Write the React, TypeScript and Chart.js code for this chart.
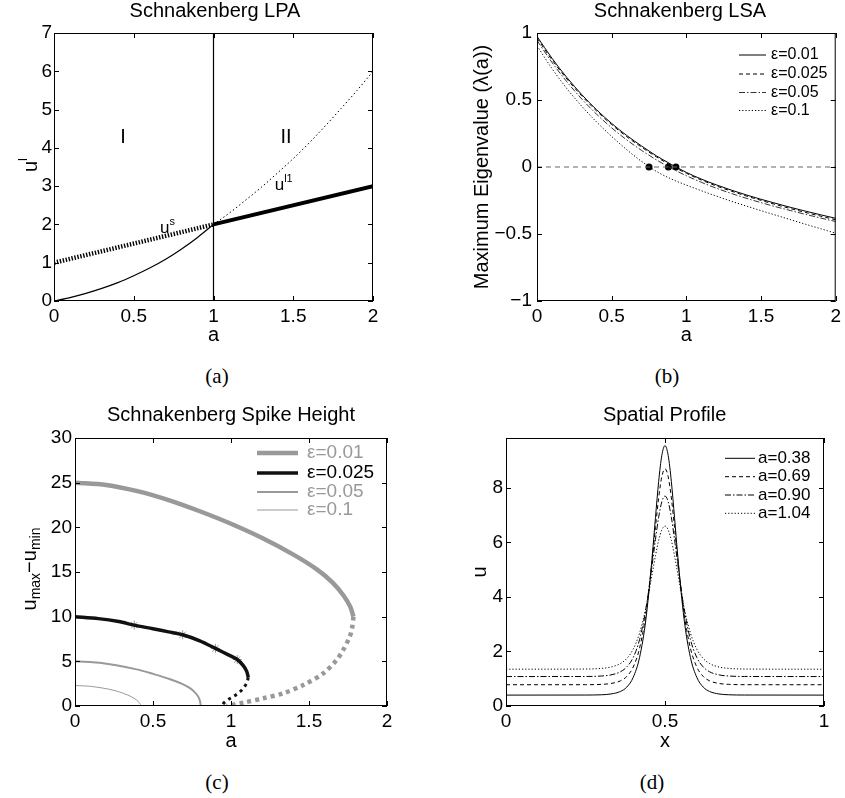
import React, { useEffect, useRef } from 'react';
import { Chart, registerables } from 'chart.js';

Chart.register(...registerables);

const SANS = '"Liberation Sans", Arial, Helvetica, sans-serif';
const SERIF = '"Liberation Serif", "Times New Roman", serif';
Chart.defaults.font.family = SANS;

// ---------------- Panel (a): Schnakenberg LPA ----------------
const A_TICKS = [0, 0.5, 1, 1.5, 2];
const LPA_Y_TICKS = [0, 1, 2, 3, 4, 5, 6, 7];
const LPA_A_LEFT = [0, 0.1, 0.2, 0.3, 0.4, 0.5, 0.6, 0.7, 0.8, 0.9, 1.0];
const LPA_U_LEFT = [0, 0.09, 0.2, 0.33, 0.48, 0.66, 0.86, 1.09, 1.36, 1.66, 2.0];
const LPA_US_A = [0, 1];
const LPA_US_U = [1, 2];
const LPA_A_RIGHT = [1.0, 1.1, 1.2, 1.3, 1.4, 1.5, 1.6, 1.7, 1.8, 1.9, 2.0];
const LPA_UL1 = [2.0, 2.3, 2.63, 2.97, 3.34, 3.72, 4.13, 4.57, 5.03, 5.5, 6.0];
const LPA_BRANCH_A = [1, 2];
const LPA_BRANCH_U = [2, 3];
const LPA_VLINE_A = [1, 1];
const LPA_VLINE_U = [0, 7];

// ---------------- Panel (b): Schnakenberg LSA ----------------
const LSA_Y_TICKS = [-1, -0.5, 0, 0.5, 1];
const LSA_A = [0, 0.1, 0.2, 0.3, 0.4, 0.5, 0.6, 0.7, 0.8, 0.9, 1.0, 1.1, 1.2, 1.3, 1.4, 1.5, 1.6, 1.7, 1.8, 1.9, 2.0];
const LSA_E001 = [0.975, 0.812, 0.668, 0.54, 0.426, 0.325, 0.236, 0.157, 0.083, 0.019, -0.04, -0.09, -0.133, -0.172, -0.208, -0.241, -0.272, -0.302, -0.33, -0.357, -0.383];
const LSA_E0025 = [0.962, 0.8, 0.657, 0.53, 0.417, 0.316, 0.227, 0.148, 0.075, 0.01, -0.047, -0.097, -0.141, -0.18, -0.216, -0.249, -0.281, -0.311, -0.34, -0.367, -0.394];
const LSA_E005 = [0.945, 0.781, 0.636, 0.507, 0.393, 0.292, 0.203, 0.124, 0.053, -0.01, -0.065, -0.114, -0.158, -0.197, -0.233, -0.266, -0.297, -0.326, -0.354, -0.381, -0.407];
const LSA_E01 = [0.905, 0.735, 0.585, 0.453, 0.335, 0.228, 0.13, 0.042, -0.033, -0.09, -0.135, -0.177, -0.217, -0.255, -0.291, -0.326, -0.36, -0.394, -0.428, -0.461, -0.494];
const LSA_ZERO_A = [0, 2];
const LSA_ZERO_L = [0, 0];
const LSA_CROSS_A = [0.75, 0.88, 0.93];
const LSA_CROSS_L = [0, 0, 0];

// ---------------- Panel (c): Spike height ----------------
const SH_Y_TICKS = [0, 5, 10, 15, 20, 25, 30];
const SH_E001_UP_A = [0, 0.2, 0.4, 0.6, 0.8, 1.0, 1.2, 1.4, 1.55, 1.65, 1.72, 1.765, 1.785];
const SH_E001_UP_U = [25, 24.75, 24.05, 23.05, 21.8, 20.4, 18.8, 16.95, 15.3, 13.85, 12.4, 11.1, 10.0];
const SH_E001_LO_A = [1.785, 1.777, 1.762, 1.72, 1.677, 1.592, 1.464, 1.335, 1.207, 1.079, 0.972];
const SH_E001_LO_U = [10.0, 8.8, 7.8, 6.3, 5.15, 3.66, 2.35, 1.42, 0.86, 0.37, 0.0];
const SH_E0025_UP_A = [0, 0.15, 0.28, 0.38, 0.5, 0.6, 0.69, 0.8, 0.9, 0.98, 1.04, 1.08, 1.1, 1.111];
const SH_E0025_UP_U = [10, 9.78, 9.45, 9.05, 8.65, 8.3, 7.98, 7.3, 6.45, 5.75, 5.2, 4.5, 3.9, 3.2];
const SH_E0025_LO_A = [1.111, 1.1, 1.08, 1.058, 1.02, 0.985, 0.955, 0.94];
const SH_E0025_LO_U = [3.2, 2.55, 2.0, 1.6, 1.1, 0.75, 0.35, 0.0];
const SH_E005_A = [0, 0.18, 0.395, 0.5, 0.61, 0.69, 0.737, 0.77, 0.79, 0.802, 0.806];
const SH_E005_U = [5, 4.78, 4.1, 3.6, 3.0, 2.45, 2.0, 1.5, 1.05, 0.5, 0];
const SH_E01_A = [0, 0.1, 0.18, 0.25, 0.31, 0.36, 0.395, 0.415, 0.425];
const SH_E01_U = [2.3, 2.2, 2.0, 1.75, 1.42, 1.05, 0.67, 0.3, 0];
const SH_STAR_A = [0.38, 0.69, 0.9, 1.04];
const SH_STAR_U = [9.05, 7.98, 6.45, 5.2];

// ---------------- Panel (d): Spatial profile ----------------
const SP_X_TICKS = [0, 0.5, 1];
const SP_Y_TICKS = [0, 2, 4, 6, 8];
const SP_X = [0, 0.25, 0.3, 0.33, 0.36, 0.38, 0.4, 0.42, 0.44, 0.46, 0.47, 0.48, 0.49, 0.5, 0.51, 0.52, 0.53, 0.54, 0.56, 0.58, 0.6, 0.62, 0.64, 0.67, 0.7, 0.75, 1];
const SP_A038 = [0.4, 0.402, 0.412, 0.441, 0.534, 0.696, 1.05, 1.78, 3.19, 5.52, 6.91, 8.23, 9.19, 9.55, 9.19, 8.23, 6.91, 5.52, 3.19, 1.78, 1.05, 0.696, 0.534, 0.441, 0.412, 0.402, 0.4];
const SP_A069 = [0.78, 0.782, 0.794, 0.826, 0.924, 1.087, 1.43, 2.12, 3.39, 5.39, 6.55, 7.63, 8.41, 8.7, 8.41, 7.63, 6.55, 5.39, 3.39, 2.12, 1.43, 1.087, 0.924, 0.826, 0.794, 0.782, 0.78];
const SP_A090 = [1.08, 1.083, 1.1, 1.141, 1.256, 1.435, 1.78, 2.435, 3.57, 5.22, 6.11, 6.92, 7.49, 7.7, 7.49, 6.92, 6.11, 5.22, 3.57, 2.435, 1.78, 1.435, 1.256, 1.141, 1.1, 1.083, 1.08];
const SP_A104 = [1.35, 1.356, 1.38, 1.429, 1.559, 1.746, 2.086, 2.676, 3.604, 4.866, 5.51, 6.075, 6.46, 6.6, 6.46, 6.075, 5.51, 4.866, 3.604, 2.676, 2.086, 1.746, 1.559, 1.429, 1.38, 1.356, 1.35];

// ---------------- helpers ----------------
const pts = (xs: number[], ys: number[]) => xs.map((x, i) => ({ x, y: ys[i] }));
const fmt = (v: number) => (v < 0 ? '\u2212' + String(Math.abs(v)) : String(v));

type Part = { t: string; size: number; dy?: number };
type TextItem = { x: number; y: number; parts: Part[]; data?: boolean; rotate?: boolean; color?: string };

const framePlugin = {
  id: 'frame',
  afterDraw(chart: any) {
    const { ctx, chartArea: a, scales } = chart;
    ctx.save();
    ctx.strokeStyle = '#000';
    ctx.lineWidth = 1;
    ctx.setLineDash([]);
    ctx.strokeRect(a.left + 0.5, a.top + 0.5, a.right - a.left - 1, a.bottom - a.top - 1);
    const L = 5;
    ctx.beginPath();
    scales.x.ticks.forEach((t: any) => {
      const px = Math.round(scales.x.getPixelForValue(t.value)) + 0.5;
      ctx.moveTo(px, a.bottom);
      ctx.lineTo(px, a.bottom - L);
      ctx.moveTo(px, a.top);
      ctx.lineTo(px, a.top + L);
    });
    scales.y.ticks.forEach((t: any) => {
      const py = Math.round(scales.y.getPixelForValue(t.value)) + 0.5;
      ctx.moveTo(a.left, py);
      ctx.lineTo(a.left + L, py);
      ctx.moveTo(a.right, py);
      ctx.lineTo(a.right - L, py);
    });
    ctx.stroke();
    ctx.restore();
  },
};

function makeTexts(id: string, items: TextItem[]) {
  return {
    id,
    afterDraw(chart: any) {
      const ctx = chart.ctx;
      items.forEach((it) => {
        let x = it.x;
        let y = it.y;
        if (it.data) {
          x = chart.scales.x.getPixelForValue(it.x);
          y = chart.scales.y.getPixelForValue(it.y);
        }
        ctx.save();
        ctx.translate(x, y);
        if (it.rotate) ctx.rotate(-Math.PI / 2);
        ctx.fillStyle = it.color || '#000';
        ctx.textBaseline = 'middle';
        ctx.textAlign = 'left';
        const widths = it.parts.map((p) => {
          ctx.font = `${p.size}px ${SANS}`;
          return ctx.measureText(p.t).width;
        });
        const total = widths.reduce((s, w) => s + w, 0);
        let cx = -total / 2;
        it.parts.forEach((p, i) => {
          ctx.font = `${p.size}px ${SANS}`;
          ctx.fillText(p.t, cx, p.dy || 0);
          cx += widths[i];
        });
        ctx.restore();
      });
    },
  };
}

function makeLegend(id: string, cfg: { x1: number; x2: number; tx: number; ys: number[]; size: number; items: { ds: number; color?: string }[] }) {
  return {
    id,
    afterDraw(chart: any) {
      const ctx = chart.ctx;
      cfg.items.forEach((item, i) => {
        const ds: any = chart.data.datasets[item.ds];
        const y = cfg.ys[i];
        ctx.save();
        ctx.strokeStyle = ds.borderColor;
        ctx.lineWidth = ds.borderWidth;
        ctx.setLineDash(ds.borderDash || []);
        ctx.beginPath();
        ctx.moveTo(cfg.x1, y);
        ctx.lineTo(cfg.x2, y);
        ctx.stroke();
        ctx.setLineDash([]);
        ctx.fillStyle = item.color || '#000';
        ctx.font = `${cfg.size}px ${SANS}`;
        ctx.textAlign = 'left';
        ctx.textBaseline = 'middle';
        ctx.fillText(ds.label, cfg.tx, y);
        ctx.restore();
      });
    },
  };
}

type AxOpts = {
  W: number; H: number; area: [number, number, number, number];
  xMin: number; xMax: number; yMin: number; yMax: number;
  xTicks: number[]; yTicks: number[];
  xTitle?: string; yTitle?: string; yTitlePad?: number;
  xTickPad: number; yTickPad: number;
};

function axesOptions(o: AxOpts): any {
  const [l, t, r, b] = o.area;
  const tickFont = { family: SANS, size: 19 };
  const titleFont = { family: SANS, size: 20 };
  return {
    responsive: false,
    animation: false,
    events: [],
    layout: { padding: { left: 0, top: t, right: o.W - r, bottom: 0 } },
    plugins: { legend: { display: false }, tooltip: { enabled: false }, title: { display: false } },
    elements: { point: { radius: 0 } },
    scales: {
      x: {
        type: 'linear', position: 'bottom', min: o.xMin, max: o.xMax,
        afterBuildTicks: (s: any) => { s.ticks = o.xTicks.map((v) => ({ value: v })); },
        afterFit: (s: any) => { s.height = o.H - b; },
        grid: { display: false, drawTicks: false },
        border: { display: false },
        ticks: { font: tickFont, color: '#000', padding: o.xTickPad, maxRotation: 0, minRotation: 0, autoSkip: false, callback: (v: number) => fmt(v) },
        title: { display: !!o.xTitle, text: o.xTitle || '', font: titleFont, color: '#000', padding: { top: 0, bottom: 0 } },
      },
      y: {
        type: 'linear', position: 'left', min: o.yMin, max: o.yMax,
        afterBuildTicks: (s: any) => { s.ticks = o.yTicks.map((v) => ({ value: v })); },
        afterFit: (s: any) => { s.width = l; },
        grid: { display: false, drawTicks: false },
        border: { display: false },
        ticks: { font: tickFont, color: '#000', padding: o.yTickPad, autoSkip: false, callback: (v: number) => fmt(v) },
        title: { display: !!o.yTitle, text: o.yTitle || '', font: titleFont, color: '#000', padding: { top: o.yTitlePad || 0, bottom: 0 } },
      },
    },
  };
}

const line = (label: string, data: any[], extra: any = {}) => ({
  label, data, borderColor: '#000', borderWidth: 1, pointRadius: 0, fill: false, tension: 0, ...extra,
});

// ---------------- chart configs ----------------
function makeA(): any {
  return {
    type: 'line',
    data: {
      datasets: [
        line('u', pts(LPA_A_LEFT, LPA_U_LEFT), { borderWidth: 1.2, cubicInterpolationMode: 'monotone' }),
        line('us', pts(LPA_US_A, LPA_US_U), { borderWidth: 4.5, borderDash: [1.4, 1.6] }),
        line('ul1', pts(LPA_A_RIGHT, LPA_UL1), { borderWidth: 1, borderDash: [1.5, 2.5], cubicInterpolationMode: 'monotone' }),
        line('branch', pts(LPA_BRANCH_A, LPA_BRANCH_U), { borderWidth: 4 }),
        line('a=1', pts(LPA_VLINE_A, LPA_VLINE_U), { borderWidth: 1.2 }),
      ],
    },
    options: axesOptions({
      W: 420, H: 347, area: [54, 33, 373, 301], xMin: 0, xMax: 2, yMin: 0, yMax: 7,
      xTicks: A_TICKS, yTicks: LPA_Y_TICKS, xTitle: 'a', xTickPad: 4, yTickPad: 2,
    }),
    plugins: [
      framePlugin,
      makeTexts('textsA', [
        { x: 215, y: 11.5, parts: [{ t: 'Schnakenberg LPA', size: 20 }] },
        { x: 31, y: 165, rotate: true, parts: [{ t: 'u', size: 20 }, { t: 'l', size: 13, dy: -8 }] },
        { x: 0.433, y: 4.28, data: true, parts: [{ t: 'I', size: 20 }] },
        { x: 1.455, y: 4.28, data: true, parts: [{ t: 'II', size: 20 }] },
        { x: 0.712, y: 1.9, data: true, parts: [{ t: 'u', size: 17 }, { t: 's', size: 11, dy: -6 }] },
        { x: 1.44, y: 3.02, data: true, parts: [{ t: 'u', size: 17 }, { t: 'l1', size: 11, dy: -6 }] },
      ]),
    ],
  };
}

function makeB(): any {
  return {
    type: 'line',
    data: {
      datasets: [
        line('zero', pts(LSA_ZERO_A, LSA_ZERO_L), { borderColor: '#666', borderDash: [5, 4] }),
        line('\u03b5=0.01', pts(LSA_A, LSA_E001), { cubicInterpolationMode: 'monotone' }),
        line('\u03b5=0.025', pts(LSA_A, LSA_E0025), { borderDash: [4, 3], cubicInterpolationMode: 'monotone' }),
        line('\u03b5=0.05', pts(LSA_A, LSA_E005), { borderColor: '#333', borderDash: [6, 2, 1.5, 2], cubicInterpolationMode: 'monotone' }),
        line('\u03b5=0.1', pts(LSA_A, LSA_E01), { borderDash: [1.2, 2], cubicInterpolationMode: 'monotone' }),
        { label: 'crossings', data: pts(LSA_CROSS_A, LSA_CROSS_L), showLine: false, pointRadius: 3.5, pointBackgroundColor: '#000', pointBorderColor: '#000', pointBorderWidth: 0 },
      ],
    },
    options: axesOptions({
      W: 425, H: 347, area: [117, 33, 418, 301], xMin: 0, xMax: 2, yMin: -1, yMax: 1,
      xTicks: A_TICKS, yTicks: LSA_Y_TICKS, xTitle: 'a', yTitle: 'Maximum Eigenvalue (\u03bb(a))', yTitlePad: 50,
      xTickPad: 4, yTickPad: 5,
    }),
    plugins: [
      framePlugin,
      makeTexts('textsB', [{ x: 260, y: 11.5, parts: [{ t: 'Schnakenberg LSA', size: 20 }] }]),
      makeLegend('legendB', { x1: 319, x2: 346, tx: 351, ys: [55, 74, 92.5, 110.5], size: 16, items: [{ ds: 1 }, { ds: 2 }, { ds: 3 }, { ds: 4 }] }),
    ],
  };
}

function makeC(): any {
  const G = '#999';
  return {
    type: 'line',
    data: {
      datasets: [
        line('\u03b5=0.01', pts(SH_E001_UP_A, SH_E001_UP_U), { borderColor: G, borderWidth: 4.5, tension: 0.3 }),
        line('\u03b5=0.01 lower', pts(SH_E001_LO_A, SH_E001_LO_U), { borderColor: G, borderWidth: 4.5, borderDash: [4, 4], tension: 0.3 }),
        line('\u03b5=0.025', pts(SH_E0025_UP_A, SH_E0025_UP_U), { borderColor: '#111', borderWidth: 3.5, tension: 0.3 }),
        line('\u03b5=0.025 lower', pts(SH_E0025_LO_A, SH_E0025_LO_U), { borderColor: '#111', borderWidth: 3, borderDash: [3, 4], tension: 0.3 }),
        line('\u03b5=0.05', pts(SH_E005_A, SH_E005_U), { borderColor: G, borderWidth: 2, tension: 0.3 }),
        line('\u03b5=0.1', pts(SH_E01_A, SH_E01_U), { borderColor: G, borderWidth: 1, tension: 0.3 }),
        { label: 'profiles', data: pts(SH_STAR_A, SH_STAR_U), showLine: false, pointStyle: 'star', pointRadius: 4.5, pointBorderColor: '#999', pointBorderWidth: 1 },
      ],
    },
    options: axesOptions({
      W: 420, H: 358, area: [75, 43, 387, 311], xMin: 0, xMax: 2, yMin: 0, yMax: 30,
      xTicks: A_TICKS, yTicks: SH_Y_TICKS, xTitle: 'a', xTickPad: 4, yTickPad: 3,
    }),
    plugins: [
      framePlugin,
      makeTexts('textsC', [
        { x: 231, y: 20, parts: [{ t: 'Schnakenberg Spike Height', size: 20 }] },
        { x: 30, y: 174, rotate: true, parts: [
          { t: 'u', size: 20 }, { t: 'max', size: 14, dy: 6 }, { t: '\u2212u', size: 20 }, { t: 'min', size: 14, dy: 6 },
        ] },
      ]),
      makeLegend('legendC', { x1: 257, x2: 298, tx: 307, ys: [58, 78, 97, 115], size: 19, items: [
        { ds: 0, color: G }, { ds: 2, color: '#000' }, { ds: 4, color: G }, { ds: 5, color: G },
      ] }),
    ],
  };
}

function makeD(): any {
  return {
    type: 'line',
    data: {
      datasets: [
        line('a=0.38', pts(SP_X, SP_A038), { cubicInterpolationMode: 'monotone' }),
        line('a=0.69', pts(SP_X, SP_A069), { borderDash: [4, 3], cubicInterpolationMode: 'monotone' }),
        line('a=0.90', pts(SP_X, SP_A090), { borderDash: [6, 2, 1.5, 2], cubicInterpolationMode: 'monotone' }),
        line('a=1.04', pts(SP_X, SP_A104), { borderDash: [1.2, 2], cubicInterpolationMode: 'monotone' }),
      ],
    },
    options: axesOptions({
      W: 425, H: 358, area: [86, 43, 404, 311], xMin: 0, xMax: 1, yMin: 0, yMax: 9.83,
      xTicks: SP_X_TICKS, yTicks: SP_Y_TICKS, xTitle: 'x', yTitle: 'u', yTitlePad: 48, xTickPad: 4, yTickPad: 3,
    }),
    plugins: [
      framePlugin,
      makeTexts('textsD', [{ x: 244.6, y: 20, parts: [{ t: 'Spatial Profile', size: 20 }] }]),
      makeLegend('legendD', { x1: 305, x2: 335, tx: 338, ys: [63.3, 81.7, 100, 118.3], size: 17, items: [{ ds: 0 }, { ds: 1 }, { ds: 2 }, { ds: 3 }] }),
    ],
  };
}

function Panel({ left, top, width, height, make }: { left: number; top: number; width: number; height: number; make: () => any }) {
  const ref = useRef<HTMLCanvasElement>(null);
  useEffect(() => {
    const chart = new Chart(ref.current as HTMLCanvasElement, make());
    return () => chart.destroy();
  }, []);
  return (
    <canvas
      ref={ref}
      width={width}
      height={height}
      style={{ position: 'absolute', left, top, width, height, display: 'block' }}
    />
  );
}

const captionStyle = (x: number, y: number): React.CSSProperties => ({
  position: 'absolute', left: x, top: y, transform: 'translate(-50%, -50%)',
  fontFamily: SERIF, fontSize: 21, color: '#000', whiteSpace: 'nowrap', lineHeight: 1,
});

export default function App() {
  return (
    <div style={{ position: 'absolute', left: 0, top: 0, width: 845, height: 798, background: '#fff', overflow: 'hidden' }}>
      <Panel left={0} top={0} width={420} height={347} make={makeA} />
      <Panel left={420} top={0} width={425} height={347} make={makeB} />
      <Panel left={0} top={395} width={420} height={358} make={makeC} />
      <Panel left={420} top={395} width={425} height={358} make={makeD} />
      <div style={captionStyle(217, 376)}>(a)</div>
      <div style={captionStyle(667, 376)}>(b)</div>
      <div style={captionStyle(217, 782)}>(c)</div>
      <div style={captionStyle(652, 782)}>(d)</div>
    </div>
  );
}
